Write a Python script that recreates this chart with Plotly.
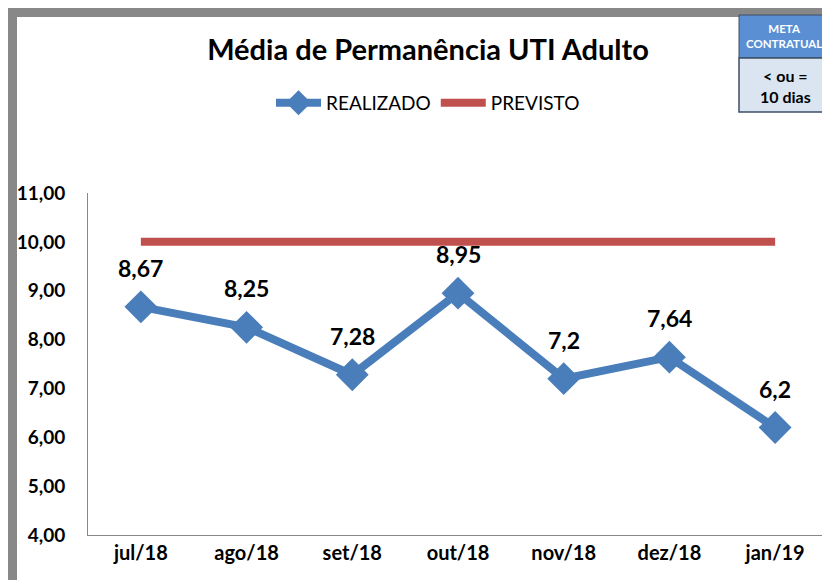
import plotly.graph_objects as go

categories = ["jul/18", "ago/18", "set/18", "out/18", "nov/18", "dez/18", "jan/19"]
realizado = [8.67, 8.25, 7.28, 8.95, 7.2, 7.64, 6.2]
realizado_labels = ["8,67", "8,25", "7,28", "8,95", "7,2", "7,64", "6,2"]
previsto = [10, 10, 10, 10, 10, 10, 10]
y_ticks = [4, 5, 6, 7, 8, 9, 10, 11]

FONT = "Lato"
OFF = 8  # page body margin
W, H = 830 - OFF, 580 - OFF
L, R, T, B = 88, 828, 193, 535  # reference pixel coords of plot area


def px(x):
    return (x - L) / (R - L)


def py(y):
    return (B - y) / (B - T)


fig = go.Figure()
fig.add_trace(go.Scatter(
    x=categories, y=realizado, name="REALIZADO", mode="lines+markers",
    line=dict(color="#4a7ebb", width=8),
    marker=dict(symbol="diamond", size=22, color="#4a7ebb",
                line=dict(color="#4a7ebb", width=3)),
))
fig.add_trace(go.Scatter(
    x=categories, y=previsto, name="PREVISTO", mode="lines",
    line=dict(color="#c0504d", width=8),
))

annotations = []
for c, v, t in zip(categories, realizado, realizado_labels):
    annotations.append(dict(x=c, y=v, text=t, showarrow=False, yshift=39,
                            font=dict(family=FONT, size=23, color="black", weight="bold")))

annotations.append(dict(xref="paper", yref="paper", x=px(784), y=py(36),
                        text="META<br>CONTRATUAL", showarrow=False,
                        font=dict(family=FONT, size=11.5, color="white", weight="bold"),
                        xanchor="center", yanchor="middle"))
annotations.append(dict(xref="paper", yref="paper", x=px(785), y=py(86),
                        text="< ou =<br>10 dias", showarrow=False,
                        font=dict(family=FONT, size=16, color="black", weight="bold"),
                        xanchor="center", yanchor="middle"))

shapes = [
    # outer frame (gray)
    dict(type="rect", xref="paper", yref="paper", x0=px(8), x1=px(17), y0=py(600), y1=py(8),
         fillcolor="#888888", line=dict(width=0), layer="above"),
    dict(type="rect", xref="paper", yref="paper", x0=px(8), x1=px(840), y0=py(17), y1=py(8),
         fillcolor="#888888", line=dict(width=0), layer="above"),
    # meta box
    dict(type="rect", xref="paper", yref="paper", x0=px(739), x1=px(829), y0=py(58), y1=py(15),
         fillcolor="#5a8fd4", line=dict(color="#3d4f66", width=1), layer="above"),
    dict(type="rect", xref="paper", yref="paper", x0=px(739), x1=px(829), y0=py(112), y1=py(58),
         fillcolor="#dbe5f1", line=dict(color="#3d4f66", width=1.5), layer="above"),
]

fig.update_layout(
    width=W, height=H,
    margin=dict(l=L - OFF, r=830 - R, t=T - OFF, b=580 - B),
    paper_bgcolor="white", plot_bgcolor="white",
    separators=",.",
    title=dict(text="Média de Permanência UTI Adulto", x=(428 - OFF) / W, xanchor="center",
               y=1 - (50 - OFF) / H, yanchor="middle",
               font=dict(family=FONT, size=29, color="black", weight="bold")),
    legend=dict(orientation="h", x=px(428), xanchor="center", y=py(103), yanchor="middle",
                font=dict(family=FONT, size=19, color="black"), itemwidth=45,
                bgcolor="rgba(0,0,0,0)"),
    showlegend=True,
    annotations=annotations,
    shapes=shapes,
    xaxis=dict(type="category", range=[-0.5, 6.5], showgrid=False, showline=True,
               linecolor="#888888", linewidth=1, ticks="", zeroline=False,
               tickfont=dict(family=FONT, size=20, color="black", weight="bold")),
    yaxis=dict(range=[4, 11], tickvals=y_ticks, tickformat=".2f", showgrid=False,
               showline=True, linecolor="#888888", linewidth=1, ticks="", zeroline=False,
               ticklabelstandoff=18,
               tickfont=dict(family=FONT, size=19, color="black", weight="bold")),
)

fig.write_html("out.html")
